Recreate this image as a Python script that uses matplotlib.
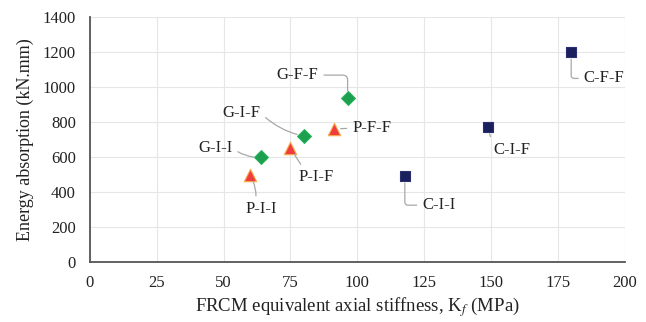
import matplotlib.pyplot as plt

plt.rcParams['font.family'] = ['Liberation Serif', 'DejaVu Serif']
plt.rcParams['mathtext.fontset'] = 'stix'

# PBO specimens (triangles)
P_LABELS = ['P-I-I', 'P-I-F', 'P-F-F']
P_X = [59.8, 75.0, 91.2]
P_Y = [495, 650, 760]

# glass specimens (diamonds)
G_LABELS = ['G-I-I', 'G-I-F', 'G-F-F']
G_X = [63.9, 80.0, 96.4]
G_Y = [600, 720, 937]

# carbon specimens (squares)
C_LABELS = ['C-I-I', 'C-I-F', 'C-F-F']
C_X = [117.8, 148.8, 180.0]
C_Y = [491, 771, 1198]

X_TICKS = [0, 25, 50, 75, 100, 125, 150, 175, 200]
Y_TICKS = [0, 200, 400, 600, 800, 1000, 1200, 1400]

# label offsets in pixels, attach point on text, connection style
LABEL_POS = {
    'P-I-I': ((12, -34), (0.3, 1.0), 'arc3,rad=0.2'),
    'P-I-F': ((26, -29), (0.15, 1.0), 'arc3,rad=0'),
    'P-F-F': ((38, 1), (0.0, 0.5), 'arc3,rad=0'),
    'G-I-I': ((-45, 9), (1.0, 0.5), 'arc3,rad=0.2'),
    'G-I-F': ((-62, 23), (1.0, 0.5), 'arc3,rad=0.15'),
    'G-F-F': ((-50, 23), (1.0, 0.5), 'angle,angleA=0,angleB=90,rad=5'),
    'C-I-I': ((34, -29), (0.0, 0.5), 'angle,angleA=0,angleB=90,rad=3'),
    'C-I-F': ((24, -23), (0.0, 0.7), 'arc3,rad=0'),
    'C-F-F': ((33, -26), (0.0, 0.5), 'angle,angleA=0,angleB=90,rad=3'),
}

fig = plt.figure(figsize=(6.46, 3.22), dpi=100)
ax = fig.add_axes([0.139, 0.186, 0.828, 0.761])

ax.scatter(P_X, P_Y, marker='^', s=80, color='#f03c3c', edgecolor='#f5b04a',
           linewidth=0.8, zorder=3)
ax.scatter(G_X, G_Y, marker='D', s=50, color='#1e9e4f', edgecolor='#26b35a',
           linewidth=0.8, zorder=3)
ax.scatter(C_X, C_Y, marker='s', s=50, color='#1b1f5e', edgecolor='#2a2f70',
           linewidth=0.8, zorder=3)

for labels, xs, ys in [(P_LABELS, P_X, P_Y), (G_LABELS, G_X, G_Y), (C_LABELS, C_X, C_Y)]:
    for lab, x, y in zip(labels, xs, ys):
        off, rel, conn = LABEL_POS[lab]
        ax.annotate(lab, (x, y), xytext=off, textcoords='offset pixels',
                    ha='center', va='center', fontsize=12, color='#222222',
                    arrowprops=dict(arrowstyle='-', color='#a8a8a8', lw=0.9,
                                    relpos=rel, shrinkA=2, shrinkB=5,
                                    connectionstyle=conn))

ax.set_xlim(0, 200)
ax.set_ylim(0, 1400)
ax.set_xticks(X_TICKS)
ax.set_yticks(Y_TICKS)
ax.tick_params(axis='x', length=0, labelsize=12, colors='#222222', pad=9)
ax.tick_params(axis='y', length=0, labelsize=12, colors='#222222', pad=10)
ax.grid(True, color='#e6e6e6', linewidth=0.8)
ax.set_axisbelow(True)
for side in ['top', 'right']:
    ax.spines[side].set_visible(False)
for side in ['left', 'bottom']:
    ax.spines[side].set_color('#555555')
    ax.spines[side].set_linewidth(1.3)

ax.set_xlabel('FRCM equivalent axial stiffness, K$_{f}$ (MPa)', fontsize=13.5,
              color='#222222', labelpad=3)
ax.set_ylabel('Energy absorption (kN.mm)', fontsize=13, color='#222222', labelpad=6)

fig.savefig('out.png', dpi=100)
